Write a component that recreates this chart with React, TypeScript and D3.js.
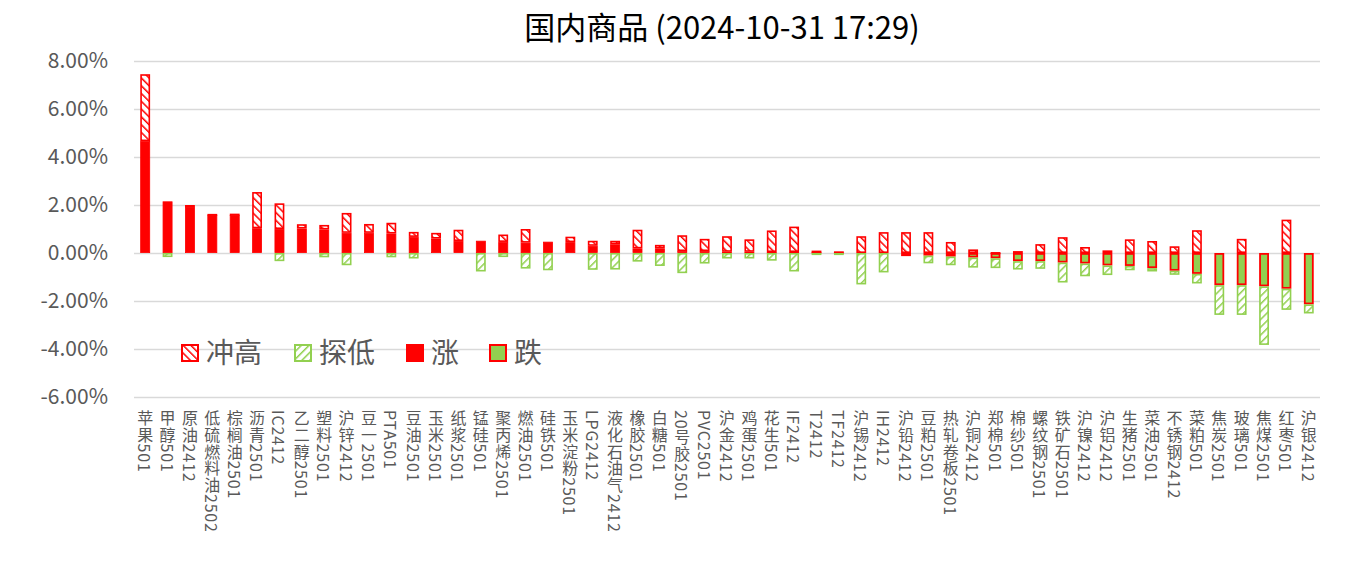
import React, { useEffect, useRef } from 'react';
import * as d3 from 'd3';

// 品种（横轴）
const categories = [
  '苹果501', '甲醇501', '原油2412', '低硫燃料油2502', '棕榈油2501', '沥青2501', 'IC2412', '乙二醇2501', '塑料2501', '沪锌2412',
  '豆一2501', 'PTA501', '豆油2501', '玉米2501', '纸浆2501', '锰硅501', '聚丙烯2501', '燃油2501', '硅铁501', '玉米淀粉2501',
  'LPG2412', '液化石油气2412', '橡胶2501', '白糖501', '20号胶2501', 'PVC2501', '沪金2412', '鸡蛋2501', '花生501', 'IF2412',
  'T2412', 'TF2412', '沪锡2412', 'IH2412', '沪铅2412', '豆粕2501', '热轧卷板2501', '沪铜2412', '郑棉501', '棉纱501',
  '螺纹钢2501', '铁矿石2501', '沪镍2412', '沪铝2412', '生猪2501', '菜油2501', '不锈钢2412', '菜粕501', '焦炭2501', '玻璃501',
  '焦煤2501', '红枣501', '沪银2412',
];

// 收盘涨跌幅 (%)
const closeChg = [
  4.66, 2.15, 1.93, 1.57, 1.58, 1.03, 1.0, 1.02, 0.98, 0.84,
  0.84, 0.81, 0.67, 0.6, 0.5, 0.51, 0.46, 0.43, 0.47, 0.45,
  0.3, 0.36, 0.19, 0.19, 0.08, 0.08, 0.05, 0.05, 0.04, 0.04,
  0.04, 0.02, 0, 0, -0.13, -0.11, -0.15, -0.19, -0.22, -0.34,
  -0.34, -0.4, -0.44, -0.52, -0.54, -0.63, -0.74, -0.87, -1.34, -1.34,
  -1.39, -1.49, -2.14,
];

// 最高涨幅 (%)
const highChg = [
  7.45, 2.15, 2.0, 1.63, 1.64, 2.54, 2.07, 1.2, 1.17, 1.67,
  1.21, 1.26, 0.88, 0.84, 0.97, 0.51, 0.77, 1.0, 0.47, 0.68,
  0.51, 0.51, 0.97, 0.34, 0.74, 0.59, 0.7, 0.57, 0.94, 1.1,
  0.1, 0.07, 0.7, 0.87, 0.87, 0.87, 0.46, 0.15, 0.04, 0.08,
  0.37, 0.66, 0.25, 0.11, 0.57, 0.5, 0.28, 0.95, 0, 0.59,
  0, 1.39, 0,
];

// 最低跌幅 (%)
const lowChg = [
  0, -0.17, 0, 0, 0, 0, -0.34, 0, -0.18, -0.51,
  0, -0.18, -0.23, 0, 0, -0.77, -0.17, -0.65, -0.72, 0,
  -0.7, -0.69, -0.36, -0.54, -0.84, -0.44, -0.23, -0.23, -0.32, -0.77,
  -0.08, -0.05, -1.31, -0.81, -0.13, -0.43, -0.51, -0.61, -0.63, -0.69,
  -0.66, -1.23, -0.97, -0.92, -0.72, -0.77, -0.91, -1.27, -2.58, -2.58,
  -3.83, -2.37, -2.52,
];

const yTicks = [8, 6, 4, 2, 0, -2, -4, -6];

const RED = '#FF0000';
const GREEN = '#92D050';
const FONT = '"Noto Sans CJK SC", "Noto Sans", sans-serif';

const App = () => {
  const ref = useRef<SVGSVGElement>(null);

  useEffect(() => {
    document.body.style.margin = '0';
    const svg = d3.select(ref.current);
    svg.selectAll('*').remove();

    const width = 1351;
    const height = 563;
    const margin = { top: 61, right: 31, bottom: 166, left: 134 };

    const x = d3.scaleBand()
      .domain(categories)
      .range([margin.left, width - margin.right])
      .paddingInner(0.56)
      .paddingOuter(0.28);

    const y = d3.scaleLinear()
      .domain([-6, 8])
      .range([height - margin.bottom, margin.top]);

    // hatch patterns
    const defs = svg.append('defs');
    const hatch = (id, color, angle) => {
      const p = defs.append('pattern')
        .attr('id', id)
        .attr('patternUnits', 'userSpaceOnUse')
        .attr('width', 5.5)
        .attr('height', 5.5)
        .attr('patternTransform', `rotate(${angle})`);
      p.append('rect').attr('width', 5.5).attr('height', 5.5).attr('fill', '#fff');
      p.append('rect').attr('width', 1.5).attr('height', 5.5).attr('fill', color);
    };
    hatch('hatch-high', RED, -45);
    hatch('hatch-low', GREEN, 45);

    // gridlines + y labels
    const yAxis = svg.append('g')
      .attr('transform', `translate(${margin.left},0)`)
      .call(d3.axisLeft(y).tickValues(yTicks)
        .tickSize(-(width - margin.left - margin.right))
        .tickPadding(26)
        .tickFormat(d => `${(+d).toFixed(2)}%`));
    yAxis.select('.domain').remove();
    yAxis.selectAll('line').attr('stroke', '#D9D9D9').attr('stroke-width', 1.5);
    yAxis.selectAll('text')
      .attr('fill', '#595959')
      .style('font-family', FONT)
      .style('font-size', '21px');

    // stacked series
    const rows = categories.map((name, i) => ({
      name,
      rise: Math.max(closeChg[i], 0),
      fall: Math.min(closeChg[i], 0),
      high: Math.max(highChg[i], 0) - Math.max(closeChg[i], 0),
      low: Math.min(lowChg[i], 0) - Math.min(closeChg[i], 0),
    }));
    const keys = ['rise', 'fall', 'high', 'low'];
    const stack = d3.stack().keys(keys).offset(d3.stackOffsetDiverging)(rows);

    const style = {
      rise: { fill: RED, stroke: RED, sw: 0.8 },
      fall: { fill: GREEN, stroke: RED, sw: 1.8 },
      high: { fill: 'url(#hatch-high)', stroke: RED, sw: 1.6 },
      low: { fill: 'url(#hatch-low)', stroke: GREEN, sw: 1.6 },
    };

    const bw = x.bandwidth();
    svg.append('g')
      .selectAll('g')
      .data(stack)
      .enter().append('g')
      .each(function (series) {
        const st = style[series.key];
        d3.select(this).selectAll('rect')
          .data(series.filter(d => Math.abs(d[1] - d[0]) > 1e-9))
          .enter().append('rect')
          .attr('x', d => x(d.data.name) + st.sw / 2)
          .attr('y', d => y(Math.max(d[0], d[1])) + st.sw / 2)
          .attr('width', bw - st.sw)
          .attr('height', d => Math.max(0.5, Math.abs(y(d[0]) - y(d[1])) - st.sw))
          .attr('fill', st.fill)
          .attr('stroke', st.stroke)
          .attr('stroke-width', st.sw);
      });

    // vertical category labels
    svg.append('g')
      .selectAll('text')
      .data(categories)
      .enter().append('text')
      .attr('x', d => x(d) + bw / 2)
      .attr('y', 410)
      .style('writing-mode', 'vertical-rl')
      .style('text-orientation', 'mixed')
      .style('font-family', FONT)
      .style('font-size', '16px')
      .style('letter-spacing', '0.8px')
      .attr('fill', '#595959')
      .text(d => d);

    // legend
    const legendItems = [
      { label: '冲高', fill: 'url(#hatch-high)', stroke: RED, x: 181 },
      { label: '探低', fill: 'url(#hatch-low)', stroke: GREEN, x: 294 },
      { label: '涨', fill: RED, stroke: RED, x: 406 },
      { label: '跌', fill: GREEN, stroke: RED, x: 489 },
    ];
    const legend = svg.append('g');
    legend.selectAll('rect')
      .data(legendItems)
      .enter().append('rect')
      .attr('x', d => d.x + 1)
      .attr('y', 345)
      .attr('width', 16)
      .attr('height', 16)
      .attr('fill', d => d.fill)
      .attr('stroke', d => d.stroke)
      .attr('stroke-width', 2);
    legend.selectAll('text')
      .data(legendItems)
      .enter().append('text')
      .attr('x', d => d.x + 25)
      .attr('y', 353)
      .attr('dy', '0.35em')
      .attr('fill', '#595959')
      .style('font-family', FONT)
      .style('font-size', '28px')
      .text(d => d.label);

    // title
    svg.append('text')
      .attr('x', 722)
      .attr('y', 28)
      .attr('dy', '0.35em')
      .attr('text-anchor', 'middle')
      .attr('fill', '#000')
      .style('font-family', FONT)
      .style('font-size', '31px')
      .text('国内商品 (2024-10-31 17:29)');
  }, []);

  return <svg ref={ref} width={1351} height={563} style={{ display: 'block', background: '#fff' }} />;
};

export default App;
